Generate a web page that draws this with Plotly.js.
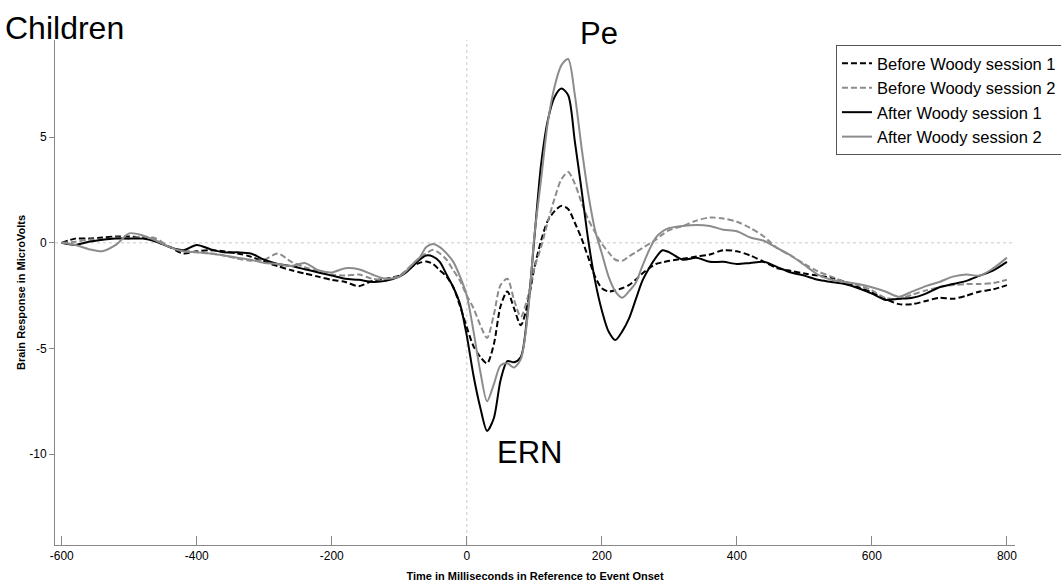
<!DOCTYPE html>
<html>
<head>
<meta charset="utf-8">
<script src="https://cdn.plot.ly/plotly-3.0.1.min.js"></script>
<style>
  html, body { margin: 0; padding: 0; background: #fff; }
  #chart { width: 1061px; height: 584px; }
</style>
</head>
<body>
<div id="chart"></div>
<script>
// Time in ms (shared by all series)
const timeMs = [
  -600,-580,-560,-540,-520,-500,-480,-460,-440,-420,-400,-380,-360,-340,-320,-300,-280,-260,-240,-220,-200,-180,-160,-140,-120,-100,
  -90,-80,-70,-60,-50,-40,-30,-20,-10,0,10,20,30,40,50,60,70,80,90,100,110,120,130,140,150,160,170,180,190,200,210,220,230,240,250,260,270,280,290,300,
  320,340,360,380,400,420,440,460,480,500,520,540,560,580,600,620,640,660,680,700,720,740,760,780,800
];

const beforeSession1 = [
  0,0.2,0.2,0.25,0.3,0.3,0.25,0.1,-0.2,-0.5,-0.4,-0.35,-0.4,-0.5,-0.65,-0.9,-1.1,-1.3,-1.45,-1.6,-1.75,-1.85,-2.05,-1.8,-1.7,-1.55,
  -1.35,-1.1,-0.95,-0.88,-1.0,-1.3,-1.6,-2.1,-3.0,-4.0,-4.9,-5.4,-5.7,-4.8,-3.0,-2.3,-3.1,-3.9,-2.9,-1.2,0.1,1.05,1.5,1.75,1.6,0.95,0.2,-0.7,-1.6,-2.15,-2.3,-2.25,-2.15,-2.0,-1.75,-1.45,-1.2,-1.0,-0.92,-0.85,
  -0.75,-0.65,-0.55,-0.35,-0.4,-0.6,-0.9,-1.2,-1.33,-1.45,-1.55,-1.65,-1.85,-2.1,-2.35,-2.65,-2.9,-2.9,-2.75,-2.6,-2.65,-2.5,-2.3,-2.2,-2.0
];

const beforeSession2 = [
  0,0.05,0.15,0.15,0.25,0.2,0.3,0.2,-0.2,-0.35,-0.45,-0.5,-0.6,-0.75,-0.85,-0.8,-0.5,-0.9,-1.15,-1.35,-1.5,-1.55,-1.5,-1.7,-1.75,-1.55,
  -1.3,-1.0,-0.7,-0.5,-0.33,-0.5,-0.8,-1.3,-1.8,-2.5,-3.1,-3.9,-4.5,-3.4,-2.0,-1.7,-2.7,-3.5,-2.6,-1.2,-0.2,1.0,2.1,3.0,3.35,2.8,1.9,1.1,0.5,-0.05,-0.45,-0.8,-0.85,-0.65,-0.45,-0.25,-0.05,0.15,0.4,0.6,
  0.8,1.05,1.2,1.15,1.0,0.7,0.3,-0.25,-0.6,-1.0,-1.35,-1.6,-1.85,-2.0,-2.25,-2.6,-2.65,-2.45,-2.25,-2.1,-2.0,-1.95,-1.95,-1.9,-1.75
];

const afterSession1 = [
  0,-0.1,0.05,0.15,0.2,0.2,0.2,0.05,-0.2,-0.35,-0.1,-0.3,-0.45,-0.45,-0.5,-0.8,-1.0,-1.1,-1.25,-1.4,-1.55,-1.7,-1.75,-1.85,-1.8,-1.6,
  -1.4,-1.1,-0.8,-0.6,-0.65,-0.9,-1.5,-2.1,-2.9,-4.4,-6.3,-7.8,-8.9,-8.3,-6.5,-5.6,-5.65,-5.4,-3.3,0.2,3.7,5.8,6.9,7.3,7.0,4.8,2.5,0.1,-1.8,-3.2,-4.2,-4.6,-4.2,-3.6,-2.7,-1.8,-1.2,-0.7,-0.35,-0.45,
  -0.8,-0.7,-0.9,-0.9,-1.0,-0.95,-0.9,-1.15,-1.4,-1.55,-1.75,-1.85,-1.95,-2.15,-2.4,-2.7,-2.65,-2.6,-2.4,-2.1,-1.95,-1.8,-1.55,-1.3,-0.9
];

const afterSession2 = [
  0,-0.1,-0.3,-0.4,-0.1,0.45,0.35,0.1,-0.2,-0.4,-0.45,-0.5,-0.6,-0.7,-0.8,-0.95,-1.0,-1.1,-0.95,-1.3,-1.4,-1.2,-1.25,-1.5,-1.7,-1.6,
  -1.35,-1.0,-0.7,-0.2,-0.05,-0.2,-0.5,-0.9,-1.6,-2.5,-4.2,-6.1,-7.5,-6.7,-5.8,-5.7,-5.9,-5.5,-3.5,0.3,3.0,5.7,7.4,8.4,8.7,7.0,4.5,2.3,0.6,-0.5,-1.6,-2.3,-2.6,-2.3,-1.9,-1.1,-0.35,0.25,0.55,0.7,
  0.8,0.85,0.8,0.62,0.55,0.25,0.1,-0.25,-0.6,-1.05,-1.5,-1.75,-1.85,-1.95,-2.1,-2.3,-2.55,-2.3,-2.05,-1.85,-1.6,-1.5,-1.55,-1.2,-0.7
];

const seriesNames = ['Before Woody session 1','Before Woody session 2','After Woody session 1','After Woody session 2'];
const xTicks = [-600,-400,-200,0,200,400,600,800];
const yTicks = [-10,-5,0,5];

const styles = [
  {color:'#000000', dash:'6px,3px', width:2},
  {color:'#8c8c8c', dash:'6px,3px', width:2},
  {color:'#000000', dash:'solid', width:2},
  {color:'#8c8c8c', dash:'solid', width:2}
];
const values = [beforeSession1, beforeSession2, afterSession1, afterSession2];

const traces = values.map((v,i) => ({
  x: timeMs, y: v, type:'scatter', mode:'lines', name: seriesNames[i],
  line: {color: styles[i].color, dash: styles[i].dash, width: styles[i].width, shape:'spline', smoothing:0.8}
}));

const FAM = '"Liberation Sans", Arial, sans-serif';
const axisFont = {family:FAM, size:12, color:'#000'};

const layout = {
  width:1061, height:584,
  margin:{l:55, r:46, t:40, b:39, autoexpand:false},
  paper_bgcolor:'#fff', plot_bgcolor:'#fff',
  showlegend:true,
  legend:{x:0.8135, y:0.99, xanchor:'left', yanchor:'top', bgcolor:'#fff', bordercolor:'#555', borderwidth:1,
          font:{family:FAM, size:16.5, color:'#000'}, tracegroupgap:0},
  xaxis:{range:[-610,812], tickvals:xTicks, ticktext:xTicks.map(String), ticks:'inside', ticklen:9, tickcolor:'#888',
         showline:true, linecolor:'#888', linewidth:1, showgrid:false, zeroline:false, tickfont:axisFont,
         title:{text:'<b>Time in Milliseconds in Reference to Event Onset</b>', font:{family:FAM, size:11, color:'#000'}, standoff:9}},
  yaxis:{range:[-14.3,9.6], tickvals:yTicks, ticktext:yTicks.map(String), ticks:'outside', ticklen:5, tickcolor:'#888',
         showline:true, linecolor:'#888', linewidth:1, showgrid:false, zeroline:false, tickfont:axisFont,
         title:{text:'<b>Brain Response in MicroVolts</b>', font:{family:FAM, size:11, color:'#000'}, standoff:1}},
  shapes:[
    {type:'line', xref:'x', yref:'paper', x0:0, x1:0, y0:0, y1:1, line:{color:'#c8c8c8', width:1, dash:'dot'}, layer:'below'},
    {type:'line', xref:'paper', yref:'y', x0:0, x1:1, y0:0, y1:0, line:{color:'#c8c8c8', width:1, dash:'dot'}, layer:'below'}
  ],
  annotations:[
    {text:'Children', xref:'paper', yref:'paper', x:-0.054, y:1.024, xanchor:'left', yanchor:'middle', showarrow:false,
     font:{family:FAM, size:32, color:'#000'}},
    {text:'Pe', xref:'paper', yref:'paper', x:0.5667, y:1.012, xanchor:'center', yanchor:'middle', showarrow:false,
     font:{family:FAM, size:31, color:'#000'}},
    {text:'ERN', xref:'paper', yref:'paper', x:0.4938, y:0.184, xanchor:'center', yanchor:'middle', showarrow:false,
     font:{family:FAM, size:31, color:'#000'}}
  ]
};

Plotly.newPlot('chart', traces, layout, {displayModeBar:false, staticPlot:true});
</script>
</body>
</html>
